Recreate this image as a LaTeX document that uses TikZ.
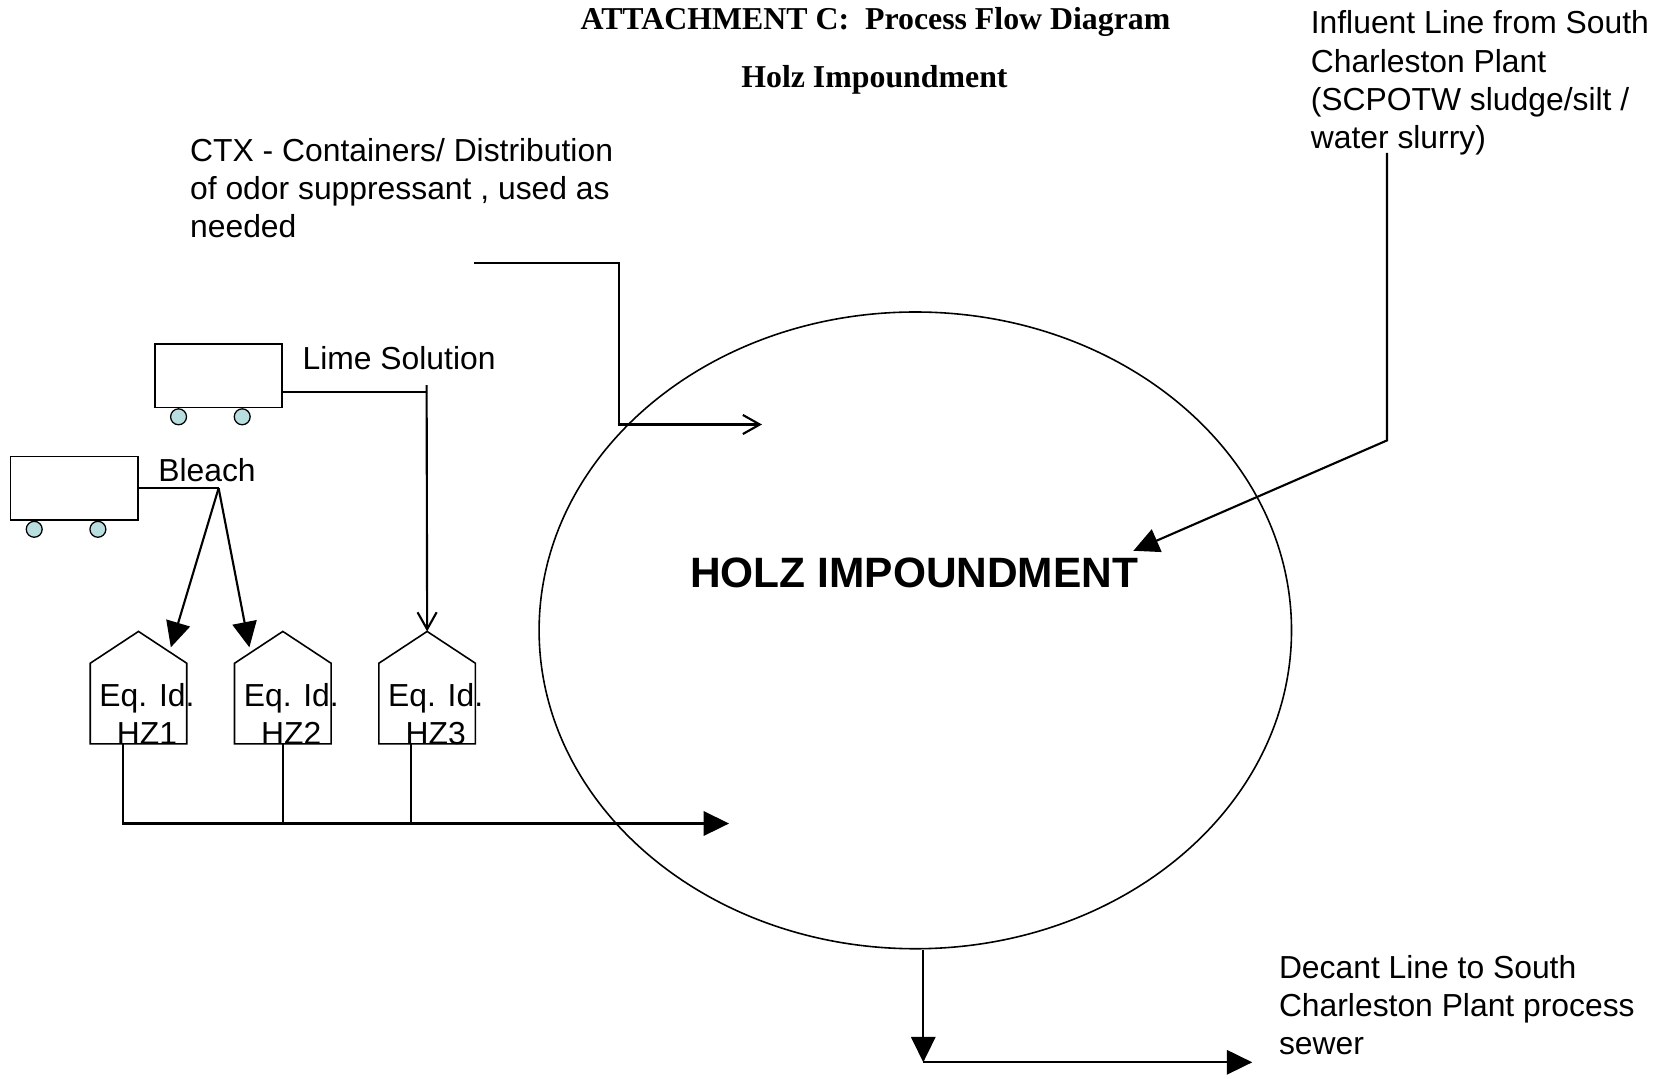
\documentclass[tikz,border=0pt]{standalone}
\usepackage{fontspec}
\setmainfont{Liberation Sans}
\newfontfamily\titlefont{Liberation Serif}
\usetikzlibrary{arrows.meta, shapes.geometric, positioning}
\definecolor{wheelblue}{HTML}{B9DEE0}

\begin{document}
\begin{tikzpicture}[x=1pt, y=-1pt, node distance=136pt, on grid,
    txt/.style={font=\fontsize{30}{36}\selectfont, inner sep=0pt, align=left},
    head/.style={font=\titlefont\bfseries\fontsize{30}{36}\selectfont, inner sep=0pt},
    cart/.style={draw, line width=1.5pt, minimum width=120pt, minimum height=60pt, inner sep=0pt},
    wheel/.style={draw, line width=1.2pt, fill=wheelblue, circle, minimum size=15pt, inner sep=0pt},
    tankbody/.style={minimum width=91pt, minimum height=76pt, inner sep=0pt, outer sep=0pt},
    pipe/.style={line width=2pt},
    fed/.style={pipe, -{Triangle[length=24pt, width=23pt]}},
    dosed/.style={pipe, -{Straight Barb[length=16pt, width=18pt]}}]
   \useasboundingbox (0,0) rectangle (1568,1016);

   % titles
   \node[head, anchor=base] (title) at (825,28) {ATTACHMENT C:\ \ Process Flow Diagram};
   \node[head, anchor=base] (subtitle) at (824,82) {Holz Impoundment};

   % the impoundment
   \node[draw, ellipse, line width=1.5pt, minimum width=709pt, minimum height=600pt, inner sep=0pt] (pond) at (862.5,594) {};
   \node[txt, font=\bfseries\fontsize{40}{48}\selectfont, anchor=base] (pondlabel) at (861.5,554) {HOLZ IMPOUNDMENT};

   % carts
   \node[cart] (limecart) at (206,354) {};
   \node[cart] (bleachcart) at (70,460) {};
   \foreach \c in {limecart, bleachcart}
     \foreach \dx in {23, 83}
       \node[wheel] (\c-w\dx) at ([xshift=\dx pt, yshift=-8pt]\c.south west) {};
   \node[txt, anchor=base west] (limelabel) at (285,348) {Lime Solution};
   \node[txt, anchor=base west] (bleachlabel) at (149,454) {Bleach};

   % tanks
   \node[tankbody] (hz1) at (130.5,663) {};
   \node[tankbody] (hz2) [right=of hz1] {};
   \node[tankbody] (hz3) [right=of hz2] {};
   \foreach \t/\n in {hz1/1, hz2/2, hz3/3} {
     \draw[line width=1.5pt] (\t.south west) -- (\t.north west) -- ([yshift=30pt]\t.north)
        -- (\t.north east) -- (\t.south east) -- cycle;
     \node[txt, align=center] (\t-label) at ([xshift=8pt, yshift=-10pt]\t.center) {Eq. Id.\\ HZ\n};
   }

   % notes
   \node[txt, anchor=north west] (ctxnote) at (179,130) {CTX - Containers/ Distribution\\of odor suppressant , used as\\needed};
   \node[txt, anchor=north west] (influentnote) at (1235,10) {Influent Line from South\\Charleston Plant\\(SCPOTW sludge/silt /\\water slurry)};
   \node[txt, anchor=north west] (decantnote) at (1205,900) {Decant Line to South\\Charleston Plant process\\sewer};

   % connector points
   \coordinate (ctxout) at (447,248);
   \coordinate (ctxin) at (718,400);
   \coordinate (inflow) at (1307,144);
   \coordinate (inbend) at (1307,415);
   \coordinate (intip) at (1068,519);
   \coordinate (limejn) at (402,369);
   \coordinate (bleachjn) at (206,460);
   \coordinate (hz1roof) at (161,610);
   \coordinate (hz2roof) at (235,610);
   \coordinate (drain) at (687,776);
   \coordinate (decant) at (870,1001);
   \coordinate (sewer) at (1180,1001);

   % lines
   \draw[dosed] (ctxout) -| ([xshift=-135pt]ctxin) -- (ctxin);
   \draw[fed] (inflow) -- (inbend) -- (intip);
   \draw[pipe] (limecart.east |- limejn) -- (limejn);
   \draw[dosed] ([yshift=6pt]limejn) -- ([yshift=30pt]hz3.north);
   \draw[pipe] (bleachcart.east) -- (bleachjn);
   \path[fed] (bleachjn) edge (hz1roof)
                         edge (hz2roof);
   \draw[fed] ([xshift=-14.5pt]hz1.south) |- (drain);
   \draw[pipe, line width=1.5pt] (hz2.south) -- (hz2.south |- drain);
   \draw[pipe, line width=1.5pt] ([xshift=-15pt]hz3.south) -- ([xshift=-15pt]hz3.south |- drain);
   \draw[fed] (pond.south -| decant) -- (decant);
   \draw[fed] (decant) -- (sewer);
\end{tikzpicture}
\end{document}
